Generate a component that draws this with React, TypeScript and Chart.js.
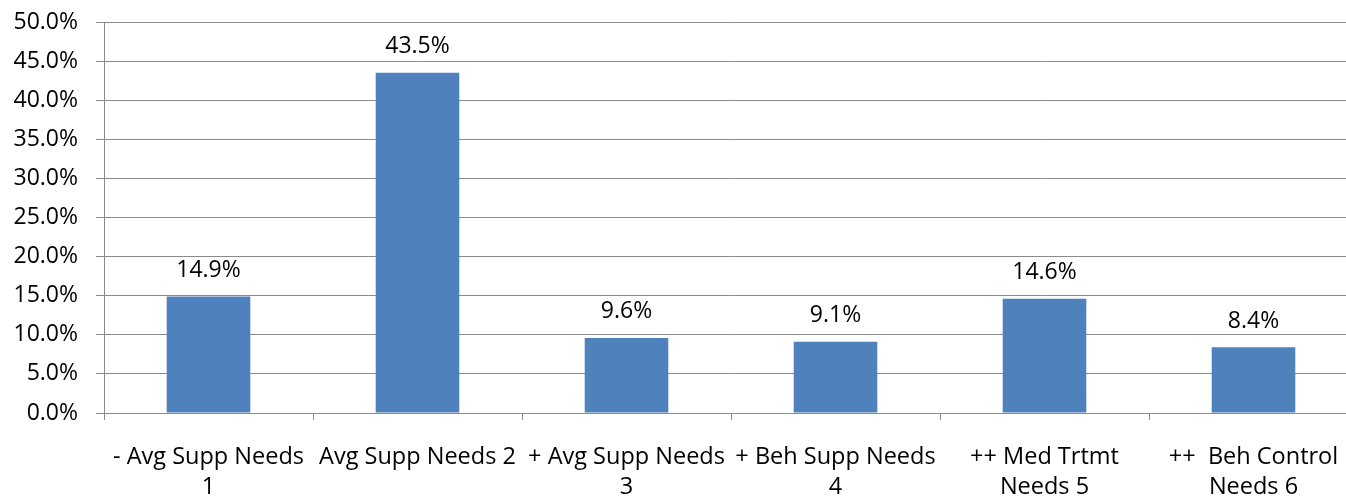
import React, { useEffect, useRef } from "react";
import { Chart, registerables } from "chart.js";

Chart.register(...registerables);

const categories: (string | string[])[] = [
  ["- Avg Supp Needs", "1"],
  ["Avg Supp Needs 2"],
  ["+ Avg Supp Needs", "3"],
  ["+ Beh Supp Needs", "4"],
  ["++ Med Trtmt", "Needs 5"],
  ["++  Beh Control", "Needs 6"],
];
const values: number[] = [14.9, 43.5, 9.6, 9.1, 14.6, 8.4];
const yMin = 0;
const yMax = 50;
const yStep = 5;

const FONT = "'Open Sans', 'Noto Sans', sans-serif";
const FONT_SIZE = 23;
const X_FONT_SIZE = 23.5;
const GRID = "#8a8a8a";

const valueLabels = {
  id: "valueLabels",
  afterDatasetsDraw(chart: any) {
    const ctx = chart.ctx;
    const meta = chart.getDatasetMeta(0);
    ctx.save();
    ctx.font = `${FONT_SIZE}px ${FONT}`;
    ctx.fillStyle = "#000000";
    ctx.textAlign = "center";
    ctx.textBaseline = "middle";
    meta.data.forEach((bar: any, i: number) => {
      ctx.fillText(values[i].toFixed(1) + "%", bar.x, bar.y - 26);
    });
    ctx.restore();
  },
};

export default function App() {
  const ref = useRef<HTMLCanvasElement>(null);
  useEffect(() => {
    if (!ref.current) return;
    const chart = new Chart(ref.current, {
      type: "bar",
      data: {
        labels: categories,
        datasets: [
          {
            data: values,
            backgroundColor: "#4F81BD",
            borderWidth: 0,
            barPercentage: 0.4,
            categoryPercentage: 1,
          },
        ],
      },
      options: {
        animation: false,
        responsive: false,
        devicePixelRatio: 1,
        layout: { padding: { top: 22, left: 0, right: 0, bottom: 0 } },
        plugins: { legend: { display: false }, tooltip: { enabled: false } },
        scales: {
          x: {
            offset: true,
            grid: {
              display: true,
              offset: true,
              drawOnChartArea: false,
              drawTicks: true,
              tickLength: 7,
              color: GRID,
            },
            border: { display: true, color: GRID, width: 1 },
            ticks: {
              color: "#000000",
              font: { family: FONT, size: X_FONT_SIZE, lineHeight: "30px" } as any,
              padding: 22,
              maxRotation: 0,
              autoSkip: false,
            },
            afterFit: (axis: any) => {
              axis.height = 87;
              axis.paddingLeft = 0;
              axis.paddingRight = 0;
            },
          },
          y: {
            min: yMin,
            max: yMax,
            grid: {
              color: GRID,
              tickLength: 8,
              drawTicks: true,
            },
            border: { display: true, color: GRID, width: 1 },
            ticks: {
              stepSize: yStep,
              color: "#000000",
              font: { family: FONT, size: FONT_SIZE },
              padding: 18,
              callback: (v: any) => Number(v).toFixed(1) + "%",
            },
            afterFit: (axis: any) => {
              axis.width = 104;
              axis.paddingTop = 0;
              axis.paddingBottom = 0;
            },
          },
        },
      },
      plugins: [valueLabels],
    });
    return () => chart.destroy();
  }, []);
  return (
    <div
      style={{
        position: "fixed",
        left: 0,
        top: 0,
        width: 1346,
        height: 500,
        overflow: "hidden",
        background: "#ffffff",
      }}
    >
      <canvas ref={ref} width={1358} height={500} style={{ display: "block" }} />
    </div>
  );
}
